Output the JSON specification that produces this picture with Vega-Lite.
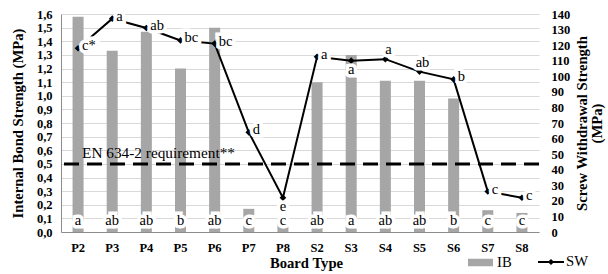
{
  "$schema": "https://vega.github.io/schema/vega-lite/v6.json",
  "width": 478,
  "height": 218,
  "autosize": {"type": "none"},
  "padding": {"left": 61, "top": 14, "right": 69, "bottom": 42},
  "background": "white",
  "config": {
    "view": {"stroke": null},
    "font": "Liberation Serif",
    "axis": {"labelOverlap": false, "labelFlush": false}
  },
  "data": {
    "values": [
      {"board": "P2", "ib": 1.58, "ibg": "a", "sw": 118, "swg": "c*"},
      {"board": "P3", "ib": 1.33, "ibg": "ab", "sw": 137, "swg": "a"},
      {"board": "P4", "ib": 1.47, "ibg": "ab", "sw": 131, "swg": "ab"},
      {"board": "P5", "ib": 1.20, "ibg": "b", "sw": 123, "swg": "bc"},
      {"board": "P6", "ib": 1.50, "ibg": "ab", "sw": 121, "swg": "bc"},
      {"board": "P7", "ib": 0.17, "ibg": "c", "sw": 64, "swg": "d"},
      {"board": "P8", "ib": 0.10, "ibg": "c", "sw": 22, "swg": "e"},
      {"board": "S2", "ib": 1.10, "ibg": "ab", "sw": 112.5, "swg": "a"},
      {"board": "S3", "ib": 1.30, "ibg": "a", "sw": 110, "swg": "a"},
      {"board": "S4", "ib": 1.11, "ibg": "ab", "sw": 111, "swg": "a"},
      {"board": "S5", "ib": 1.11, "ibg": "ab", "sw": 103, "swg": "ab"},
      {"board": "S6", "ib": 0.98, "ibg": "b", "sw": 98, "swg": "b"},
      {"board": "S7", "ib": 0.16, "ibg": "c", "sw": 26, "swg": "c"},
      {"board": "S8", "ib": 0.14, "ibg": "c", "sw": 22, "swg": "c"}
    ]
  },
  "layer": [
    {
      "layer": [
        {
          "mark": {"type": "bar", "size": 11, "color": "#A6A6A6"},
          "encoding": {
            "x": {
              "field": "board", "type": "nominal", "sort": null,
              "scale": {"domain": ["P2","P3","P4","P5","P6","P7","P8","S2","S3","S4","S5","S6","S7","S8"], "paddingInner": 0, "paddingOuter": 0},
              "axis": {
                "title": "Board Type", "labelAngle": 0, "ticks": false, "domainColor": "#8C8C8C",
                "labelFontWeight": "bold", "labelFontSize": 12.5, "labelColor": "black", "labelPadding": 9,
                "titleFontWeight": "bold", "titleFontSize": 14.67, "titleColor": "black", "titlePadding": 2, "titleX": 245
              }
            },
            "y": {
              "field": "ib", "type": "quantitative",
              "scale": {"domain": [0, 1.6], "nice": false, "zero": true},
              "axis": {"title": "Internal Bond Strength (MPa)", "values": [0, 0.1, 0.2, 0.3, 0.4, 0.5, 0.6, 0.7, 0.8, 0.9, 1.0, 1.1, 1.2, 1.3, 1.4, 1.5, 1.6], "labelExpr": "replace(format(datum.value, '.1f'), '.', ',')", "grid": true, "gridColor": "#D9D9D9", "ticks": false, "domainColor": "#8C8C8C", "labelFontWeight": "bold", "labelFontSize": 12.5, "labelColor": "black", "labelPadding": 9, "labelFlush": false, "labelOverlap": false, "titleFontWeight": "bold", "titleFontSize": 14.67, "titleColor": "black", "titlePadding": 11}
            },
            "fill": {
              "datum": "IB", "type": "nominal",
              "scale": {"range": ["#A6A6A6"]},
              "legend": {
                "title": null, "orient": "none", "legendX": 407, "legendY": 236, "padding": 0,
                "symbolType": "M-1,-0.3H1V0.3H-1Z", "symbolSize": 625, "symbolStrokeWidth": 0,
                "labelFontSize": 14.67, "labelColor": "black", "labelOffset": 4
              }
            }
          }
        },
        {
          "mark": {"type": "text", "fontSize": 14.5, "fill": "white", "stroke": "white", "strokeWidth": 7, "strokeJoin": "miter", "baseline": "middle"},
          "encoding": {
            "x": {"field": "board", "type": "nominal", "sort": null},
            "y": {"datum": 0.08, "type": "quantitative",
              "axis": {"title": "Internal Bond Strength (MPa)", "values": [0, 0.1, 0.2, 0.3, 0.4, 0.5, 0.6, 0.7, 0.8, 0.9, 1.0, 1.1, 1.2, 1.3, 1.4, 1.5, 1.6], "labelExpr": "replace(format(datum.value, '.1f'), '.', ',')", "grid": true, "gridColor": "#D9D9D9", "ticks": false, "domainColor": "#8C8C8C", "labelFontWeight": "bold", "labelFontSize": 12.5, "labelColor": "black", "labelPadding": 9, "labelFlush": false, "labelOverlap": false, "titleFontWeight": "bold", "titleFontSize": 14.67, "titleColor": "black", "titlePadding": 11}},
            "text": {"field": "ibg"}
          }
        },
        {
          "mark": {"type": "text", "fontSize": 14.5, "color": "black", "baseline": "middle"},
          "encoding": {
            "x": {"field": "board", "type": "nominal", "sort": null},
            "y": {"datum": 0.08, "type": "quantitative",
              "axis": {"title": "Internal Bond Strength (MPa)", "values": [0, 0.1, 0.2, 0.3, 0.4, 0.5, 0.6, 0.7, 0.8, 0.9, 1.0, 1.1, 1.2, 1.3, 1.4, 1.5, 1.6], "labelExpr": "replace(format(datum.value, '.1f'), '.', ',')", "grid": true, "gridColor": "#D9D9D9", "ticks": false, "domainColor": "#8C8C8C", "labelFontWeight": "bold", "labelFontSize": 12.5, "labelColor": "black", "labelPadding": 9, "labelFlush": false, "labelOverlap": false, "titleFontWeight": "bold", "titleFontSize": 14.67, "titleColor": "black", "titlePadding": 11}},
            "text": {"field": "ibg"}
          }
        },
        {
          "data": {"values": [{"label": "EN 634-2 requirement**", "level": 0.5}]},
          "mark": {"type": "rule", "strokeDash": [15, 8], "strokeWidth": 3, "color": "black"},
          "encoding": {
            "y": {"field": "level", "type": "quantitative",
              "axis": {"title": "Internal Bond Strength (MPa)", "values": [0, 0.1, 0.2, 0.3, 0.4, 0.5, 0.6, 0.7, 0.8, 0.9, 1.0, 1.1, 1.2, 1.3, 1.4, 1.5, 1.6], "labelExpr": "replace(format(datum.value, '.1f'), '.', ',')", "grid": true, "gridColor": "#D9D9D9", "ticks": false, "domainColor": "#8C8C8C", "labelFontWeight": "bold", "labelFontSize": 12.5, "labelColor": "black", "labelPadding": 9, "labelFlush": false, "labelOverlap": false, "titleFontWeight": "bold", "titleFontSize": 14.67, "titleColor": "black", "titlePadding": 11}}
          }
        },
        {
          "data": {"values": [{"label": "EN 634-2 requirement**", "level": 0.5}]},
          "mark": {"type": "text", "fontSize": 15.3, "color": "black", "align": "left", "baseline": "middle", "dx": 4, "dy": -11},
          "encoding": {
            "x": {"datum": "P2", "type": "nominal"},
            "y": {"field": "level", "type": "quantitative",
              "axis": {"title": "Internal Bond Strength (MPa)", "values": [0, 0.1, 0.2, 0.3, 0.4, 0.5, 0.6, 0.7, 0.8, 0.9, 1.0, 1.1, 1.2, 1.3, 1.4, 1.5, 1.6], "labelExpr": "replace(format(datum.value, '.1f'), '.', ',')", "grid": true, "gridColor": "#D9D9D9", "ticks": false, "domainColor": "#8C8C8C", "labelFontWeight": "bold", "labelFontSize": 12.5, "labelColor": "black", "labelPadding": 9, "labelFlush": false, "labelOverlap": false, "titleFontWeight": "bold", "titleFontSize": 14.67, "titleColor": "black", "titlePadding": 11}},
            "text": {"field": "label"}
          }
        }
      ]
    },
    {
      "layer": [
        {
          "mark": {"type": "line", "color": "black", "strokeWidth": 2},
          "encoding": {
            "x": {"field": "board", "type": "nominal", "sort": null},
            "y": {
              "field": "sw", "type": "quantitative",
              "scale": {"domain": [0, 140], "nice": false},
              "axis": {"orient": "right", "title": ["Screw Withdrawal Strength", "(MPa)"], "values": [0, 10, 20, 30, 40, 50, 60, 70, 80, 90, 100, 110, 120, 130, 140], "grid": false, "ticks": false, "domain": false, "labelFontWeight": "bold", "labelFontSize": 12.5, "labelColor": "black", "labelPadding": 12, "labelFlush": false, "labelOverlap": false, "titleFontWeight": "bold", "titleFontSize": 14.67, "titleColor": "black", "titleAngle": 270, "titlePadding": 5, "titleLineHeight": 15}
            },
            "stroke": {
              "datum": "SW", "type": "nominal",
              "scale": {"range": ["black"]},
              "legend": {
                "title": null, "orient": "none", "legendX": 476, "legendY": 234, "padding": 0,
                "symbolType": "M-1,0H1M-0.13,0L0,-0.13L0.13,0L0,0.13Z", "symbolSize": 676,
                "symbolStrokeWidth": 2, "symbolStrokeColor": "black", "symbolFillColor": "black",
                "labelFontSize": 14.67, "labelColor": "black", "labelOffset": 1
              }
            }
          }
        },
        {
          "mark": {"type": "point", "shape": "diamond", "filled": true, "color": "black", "size": 45, "opacity": 1},
          "encoding": {
            "x": {"field": "board", "type": "nominal", "sort": null},
            "y": {"field": "sw", "type": "quantitative",
              "axis": {"orient": "right", "title": ["Screw Withdrawal Strength", "(MPa)"], "values": [0, 10, 20, 30, 40, 50, 60, 70, 80, 90, 100, 110, 120, 130, 140], "grid": false, "ticks": false, "domain": false, "labelFontWeight": "bold", "labelFontSize": 12.5, "labelColor": "black", "labelPadding": 12, "labelFlush": false, "labelOverlap": false, "titleFontWeight": "bold", "titleFontSize": 14.67, "titleColor": "black", "titleAngle": 270, "titlePadding": 5, "titleLineHeight": 15}}
          }
        },
        {
          "transform": [{"filter": {"field": "board", "oneOf": ["P2","P3","P4","P5","P6","P7","S2","S6","S7","S8"]}}],
          "mark": {"type": "text", "fontSize": 14.5, "fill": "white", "stroke": "white", "strokeWidth": 7, "strokeJoin": "miter", "align": "left", "baseline": "middle", "dx": 4, "dy": -2},
          "encoding": {
            "x": {"field": "board", "type": "nominal", "sort": null},
            "y": {"field": "sw", "type": "quantitative",
              "axis": {"orient": "right", "title": ["Screw Withdrawal Strength", "(MPa)"], "values": [0, 10, 20, 30, 40, 50, 60, 70, 80, 90, 100, 110, 120, 130, 140], "grid": false, "ticks": false, "domain": false, "labelFontWeight": "bold", "labelFontSize": 12.5, "labelColor": "black", "labelPadding": 12, "labelFlush": false, "labelOverlap": false, "titleFontWeight": "bold", "titleFontSize": 14.67, "titleColor": "black", "titleAngle": 270, "titlePadding": 5, "titleLineHeight": 15}},
            "text": {"field": "swg"}
          }
        },
        {
          "transform": [{"filter": {"field": "board", "oneOf": ["P2","P3","P4","P5","P6","P7","S2","S6","S7","S8"]}}],
          "mark": {"type": "text", "fontSize": 14.5, "color": "black", "align": "left", "baseline": "middle", "dx": 4, "dy": -2},
          "encoding": {
            "x": {"field": "board", "type": "nominal", "sort": null},
            "y": {"field": "sw", "type": "quantitative",
              "axis": {"orient": "right", "title": ["Screw Withdrawal Strength", "(MPa)"], "values": [0, 10, 20, 30, 40, 50, 60, 70, 80, 90, 100, 110, 120, 130, 140], "grid": false, "ticks": false, "domain": false, "labelFontWeight": "bold", "labelFontSize": 12.5, "labelColor": "black", "labelPadding": 12, "labelFlush": false, "labelOverlap": false, "titleFontWeight": "bold", "titleFontSize": 14.67, "titleColor": "black", "titleAngle": 270, "titlePadding": 5, "titleLineHeight": 15}},
            "text": {"field": "swg"}
          }
        },
        {
          "transform": [{"filter": {"field": "board", "oneOf": ["P8","S3"]}}],
          "mark": {"type": "text", "fontSize": 14.5, "fill": "white", "stroke": "white", "strokeWidth": 7, "strokeJoin": "miter", "align": "center", "baseline": "middle", "dy": 9},
          "encoding": {
            "x": {"field": "board", "type": "nominal", "sort": null},
            "y": {"field": "sw", "type": "quantitative",
              "axis": {"orient": "right", "title": ["Screw Withdrawal Strength", "(MPa)"], "values": [0, 10, 20, 30, 40, 50, 60, 70, 80, 90, 100, 110, 120, 130, 140], "grid": false, "ticks": false, "domain": false, "labelFontWeight": "bold", "labelFontSize": 12.5, "labelColor": "black", "labelPadding": 12, "labelFlush": false, "labelOverlap": false, "titleFontWeight": "bold", "titleFontSize": 14.67, "titleColor": "black", "titleAngle": 270, "titlePadding": 5, "titleLineHeight": 15}},
            "text": {"field": "swg"}
          }
        },
        {
          "transform": [{"filter": {"field": "board", "oneOf": ["P8","S3"]}}],
          "mark": {"type": "text", "fontSize": 14.5, "color": "black", "align": "center", "baseline": "middle", "dy": 9},
          "encoding": {
            "x": {"field": "board", "type": "nominal", "sort": null},
            "y": {"field": "sw", "type": "quantitative",
              "axis": {"orient": "right", "title": ["Screw Withdrawal Strength", "(MPa)"], "values": [0, 10, 20, 30, 40, 50, 60, 70, 80, 90, 100, 110, 120, 130, 140], "grid": false, "ticks": false, "domain": false, "labelFontWeight": "bold", "labelFontSize": 12.5, "labelColor": "black", "labelPadding": 12, "labelFlush": false, "labelOverlap": false, "titleFontWeight": "bold", "titleFontSize": 14.67, "titleColor": "black", "titleAngle": 270, "titlePadding": 5, "titleLineHeight": 15}},
            "text": {"field": "swg"}
          }
        },
        {
          "transform": [{"filter": {"field": "board", "oneOf": ["S4","S5"]}}],
          "mark": {"type": "text", "fontSize": 14.5, "fill": "white", "stroke": "white", "strokeWidth": 7, "strokeJoin": "miter", "align": "center", "baseline": "middle", "dx": 3, "dy": -9},
          "encoding": {
            "x": {"field": "board", "type": "nominal", "sort": null},
            "y": {"field": "sw", "type": "quantitative",
              "axis": {"orient": "right", "title": ["Screw Withdrawal Strength", "(MPa)"], "values": [0, 10, 20, 30, 40, 50, 60, 70, 80, 90, 100, 110, 120, 130, 140], "grid": false, "ticks": false, "domain": false, "labelFontWeight": "bold", "labelFontSize": 12.5, "labelColor": "black", "labelPadding": 12, "labelFlush": false, "labelOverlap": false, "titleFontWeight": "bold", "titleFontSize": 14.67, "titleColor": "black", "titleAngle": 270, "titlePadding": 5, "titleLineHeight": 15}},
            "text": {"field": "swg"}
          }
        },
        {
          "transform": [{"filter": {"field": "board", "oneOf": ["S4","S5"]}}],
          "mark": {"type": "text", "fontSize": 14.5, "color": "black", "align": "center", "baseline": "middle", "dx": 3, "dy": -9},
          "encoding": {
            "x": {"field": "board", "type": "nominal", "sort": null},
            "y": {"field": "sw", "type": "quantitative",
              "axis": {"orient": "right", "title": ["Screw Withdrawal Strength", "(MPa)"], "values": [0, 10, 20, 30, 40, 50, 60, 70, 80, 90, 100, 110, 120, 130, 140], "grid": false, "ticks": false, "domain": false, "labelFontWeight": "bold", "labelFontSize": 12.5, "labelColor": "black", "labelPadding": 12, "labelFlush": false, "labelOverlap": false, "titleFontWeight": "bold", "titleFontSize": 14.67, "titleColor": "black", "titleAngle": 270, "titlePadding": 5, "titleLineHeight": 15}},
            "text": {"field": "swg"}
          }
        }
      ]
    }
  ],
  "resolve": {"scale": {"y": "independent"}}
}
